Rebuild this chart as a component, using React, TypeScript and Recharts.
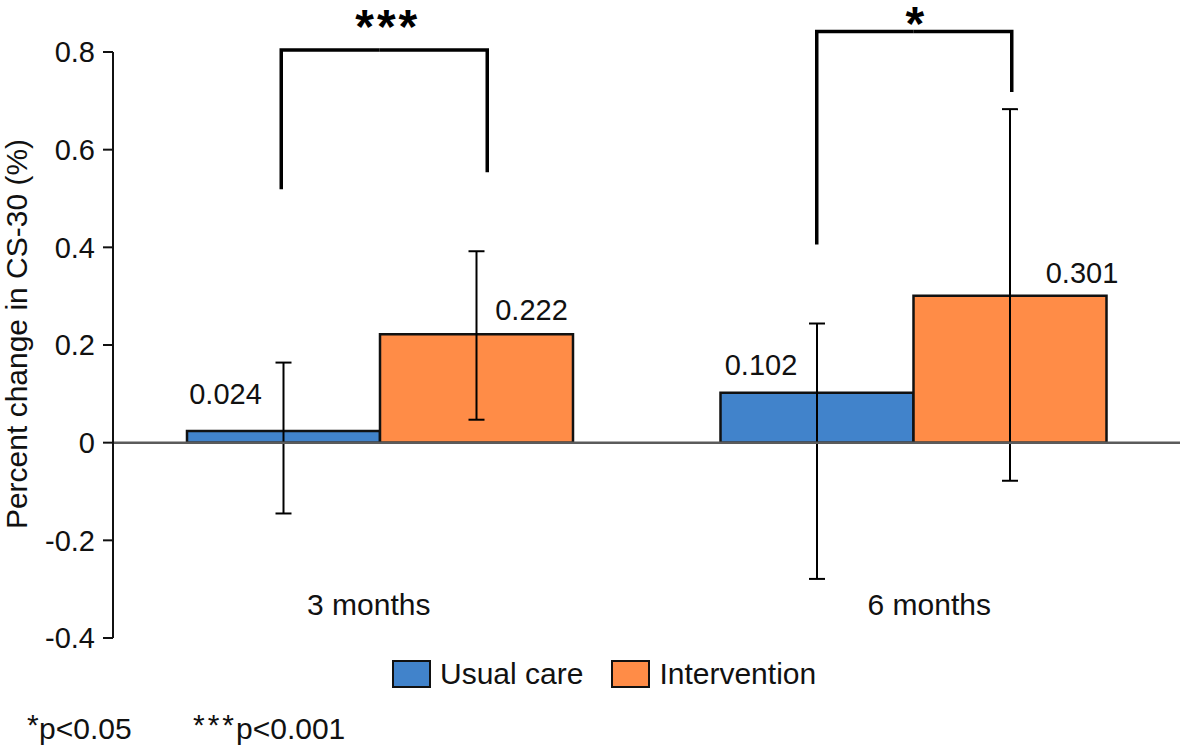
import React from 'react';
import { BarChart, Bar, XAxis, YAxis, ErrorBar, ReferenceLine, LabelList, Legend, Label } from 'recharts';

// values
const categories = ['3 months', '6 months'];
const usualCare = [0.024, 0.102];
const intervention = [0.222, 0.301];
const usualCareLow = [-0.145, -0.279];
const usualCareHigh = [0.164, 0.244];
const interventionLow = [0.047, -0.078];
const interventionHigh = [0.392, 0.683];
const yTicks = [-0.4, -0.2, 0, 0.2, 0.4, 0.6, 0.8];

// significance brackets
const stars = ['***', '*'];
const bracketTop = [0.804, 0.842];
const bracketLeftEnd = [0.519, 0.406];
const bracketRightEnd = [0.554, 0.718];

const seriesOrder = ['usual', 'intervention'];

const BLUE = '#4183cb';
const ORANGE = '#ff8c47';
const INK = '#111';
const FONT = '"Liberation Sans", Arial, sans-serif';
const BAR_SIZE = 193;
const HALF = BAR_SIZE / 2;

// hand nudges in px, the original labels aren't centred on their bars
const usualLabelNudge = [{ dx: -58, dy: -27 }, { dx: -56, dy: -18 }];
const interventionLabelNudge = [{ dx: 55, dy: -14 }, { dx: 72, dy: -13 }];
const categoryNudge = [-11, 16];
const bracketLegNudge = [[-2, 11], [0, 2]];
const starNudge = [{ dx: 8, dy: -7 }, { dx: 3, dy: 8 }];

const data = categories.map((name, i) => ({
  name,
  usual: usualCare[i],
  intervention: intervention[i],
  usualErr: [usualCare[i] - usualCareLow[i], usualCareHigh[i] - usualCare[i]],
  interventionErr: [intervention[i] - interventionLow[i], interventionHigh[i] - intervention[i]],
}));

const valueLabel = (nudge: { dx: number; dy: number }[]) => (props: any) => {
  const { x, y, width, value, index } = props;
  const n = nudge[index] || { dx: 0, dy: -8 };
  return (
    <text x={x + width / 2 + n.dx} y={y + n.dy} textAnchor="middle" fill={INK} fontSize={29} fontFamily={FONT}>
      {value.toFixed(3)}
    </text>
  );
};

const CategoryTick = (props: any) => {
  const { x, y, payload, index } = props;
  return (
    <text x={x + (categoryNudge[index] || 0)} y={y - 23} textAnchor="middle" fill={INK} fontSize={30} fontFamily={FONT}>
      {payload.value}
    </text>
  );
};

const LegendContent = (props: any) => {
  const payload = [...(props.payload || [])].sort(
    (a: any, b: any) => seriesOrder.indexOf(a.dataKey) - seriesOrder.indexOf(b.dataKey)
  );
  return (
    <div style={{ display: 'flex', alignItems: 'center', fontFamily: FONT, fontSize: 30, lineHeight: '34px', color: INK }}>
      {payload.map((p: any, i: number) => (
        <div key={i} style={{ display: 'flex', alignItems: 'center', marginRight: i === 0 ? 28 : 0 }}>
          <span
            style={{
              display: 'inline-block',
              width: 39,
              height: 28,
              boxSizing: 'border-box',
              border: `2.5px solid ${INK}`,
              background: p.color,
              marginRight: 9,
            }}
          />
          <span>{p.value}</span>
        </div>
      ))}
    </div>
  );
};

const AxisTitle = (props: any) => {
  const vb = props.viewBox || { x: 0, y: 0, height: 0 };
  const cx = vb.x + 27;
  const cy = vb.y + vb.height / 2 - 11;
  return (
    <text x={cx} y={cy} transform={`rotate(-90, ${cx}, ${cy})`} textAnchor="middle" fill={INK} fontSize={30} fontFamily={FONT}>
      Percent change in CS-30 (%)
    </text>
  );
};

export default function App() {
  return (
    <div style={{ position: 'absolute', left: 0, top: 0, width: 1181, height: 750, background: '#fff' }}>
      <BarChart
        width={1181}
        height={750}
        data={data}
        margin={{ top: 52, right: 1, left: 0, bottom: 82 }}
        barGap={0}
        barSize={BAR_SIZE}
      >
        <XAxis
          dataKey="name"
          height={30}
          axisLine={false}
          tickLine={false}
          tickSize={0}
          tickMargin={0}
          tick={<CategoryTick />}
          interval={0}
        />
        <YAxis
          type="number"
          domain={[-0.4, 0.8]}
          ticks={yTicks}
          width={113}
          axisLine={{ stroke: INK, strokeWidth: 2 }}
          tickLine={{ stroke: INK, strokeWidth: 2 }}
          tickSize={10}
          tickMargin={8}
          tick={{ fill: INK, fontSize: 29, fontFamily: FONT }}
        >
          <Label content={<AxisTitle />} />
        </YAxis>
        <Legend
          verticalAlign="middle"
          align="center"
          layout="horizontal"
          content={<LegendContent />}
          wrapperStyle={{ left: 392, top: 657, width: 'auto', height: 'auto' }}
        />
        <Bar dataKey="usual" name="Usual care" fill={BLUE} stroke={INK} strokeWidth={2.5} isAnimationActive={false}>
          <ErrorBar dataKey="usualErr" width={8} stroke="#000" strokeWidth={2} direction="y" />
          <LabelList dataKey="usual" content={valueLabel(usualLabelNudge)} />
        </Bar>
        <Bar dataKey="intervention" name="Intervention" fill={ORANGE} stroke={INK} strokeWidth={2.5} isAnimationActive={false}>
          <ErrorBar dataKey="interventionErr" width={8} stroke="#000" strokeWidth={2} direction="y" />
          <LabelList dataKey="intervention" content={valueLabel(interventionLabelNudge)} />
        </Bar>
        <ReferenceLine y={0} stroke="#5b5b5b" strokeWidth={2.5} />
        {categories.map((c, i) => (
          <ReferenceLine
            key={`left-${c}`}
            segment={[{ x: c, y: bracketLeftEnd[i] }, { x: c, y: bracketTop[i] }]}
            ifOverflow="visible"
            shape={(p: any) => {
              const xl = p.x1 - HALF + bracketLegNudge[i][0];
              return (
                <g>
                  <polyline
                    points={`${xl},${p.y1} ${xl},${p.y2} ${p.x1},${p.y2}`}
                    fill="none"
                    stroke="#000"
                    strokeWidth={3.5}
                    strokeLinejoin="miter"
                  />
                  <text
                    x={p.x1 + starNudge[i].dx}
                    y={p.y2 + starNudge[i].dy}
                    textAnchor="middle"
                    fill="#000"
                    fontSize={48}
                    fontWeight="bold"
                    letterSpacing={3}
                    fontFamily={FONT}
                  >
                    {stars[i]}
                  </text>
                </g>
              );
            }}
          />
        ))}
        {categories.map((c, i) => (
          <ReferenceLine
            key={`right-${c}`}
            segment={[{ x: c, y: bracketRightEnd[i] }, { x: c, y: bracketTop[i] }]}
            ifOverflow="visible"
            shape={(p: any) => {
              const xr = p.x1 + HALF + bracketLegNudge[i][1];
              return (
                <polyline
                  points={`${xr},${p.y1} ${xr},${p.y2} ${p.x1},${p.y2}`}
                  fill="none"
                  stroke="#000"
                  strokeWidth={3.5}
                  strokeLinejoin="miter"
                />
              );
            }}
          />
        ))}
      </BarChart>
      <svg width={1181} height={750} style={{ position: 'absolute', left: 0, top: 0, pointerEvents: 'none' }}>
        <g fill={INK} fontSize={30} fontFamily={FONT}>
          <text x={27} y={735}>*</text>
          <text x={39} y={739}>p&lt;0.05</text>
          <text x={193} y={735} letterSpacing={3}>***</text>
          <text x={236} y={739}>p&lt;0.001</text>
        </g>
      </svg>
    </div>
  );
}
